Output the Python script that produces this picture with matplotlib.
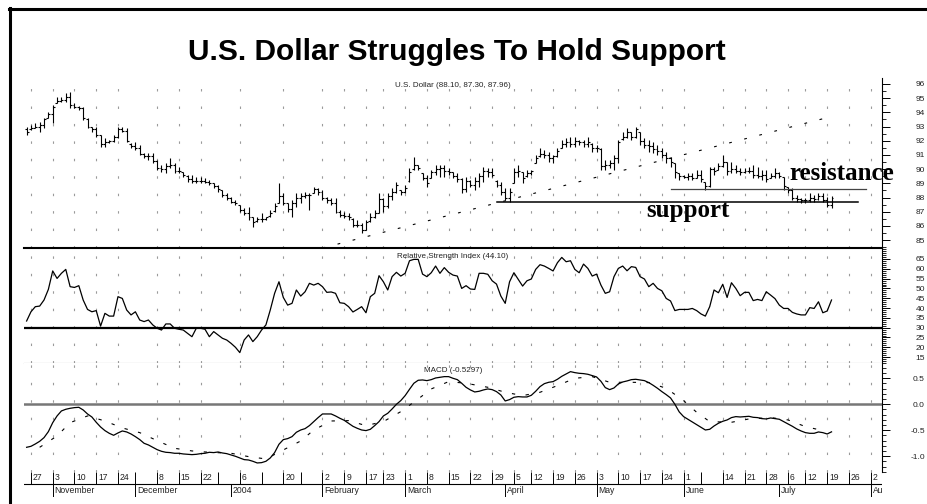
import numpy as np
import pandas as pd
import matplotlib
matplotlib.use("Agg")
import matplotlib.pyplot as plt
from matplotlib.lines import Line2D
from matplotlib.ticker import MultipleLocator, FixedLocator, FormatStrFormatter

plt.rcParams['font.family'] = ['Liberation Sans', 'DejaVu Sans']

# ---------------- data ----------------
holidays = ['2003-11-27', '2003-12-25', '2004-01-19', '2004-02-16',
            '2004-04-09', '2004-05-31', '2004-07-05']
start_date, end_date = '2003-10-24', '2004-08-06'

high = [93.00, 93.11, 93.23, 93.35, 93.58, 94.05, 94.52, 95.11, 95.11, 95.34, 95.46,
        94.64, 94.45, 94.40, 93.58, 93.00, 93.00, 92.41, 92.17, 92.06, 92.41,
        93.00, 93.00, 92.88, 91.82, 91.94, 91.70, 91.12, 91.12, 91.12, 90.65,
        90.30, 90.41, 90.77, 90.41, 90.18, 89.83, 89.59, 89.59, 89.47, 89.47,
        89.36, 89.24, 89.00, 88.89, 88.54, 88.30, 88.07, 87.83, 87.48, 87.24,
        87.36, 86.66, 86.66, 86.89, 86.66, 87.13, 87.60, 89.00, 88.30, 87.60,
        87.83, 88.30, 88.30, 88.42, 88.30, 88.77, 88.65, 88.54, 88.07, 87.95,
        87.95, 87.13, 87.01, 86.89, 86.54, 86.42, 86.19, 86.42, 86.89, 87.13,
        88.30, 87.95, 88.30, 88.65, 89.12, 88.54, 88.89, 90.06, 90.88, 90.30,
        89.71, 89.59, 89.94, 90.30, 90.30, 90.30, 90.06, 89.83, 89.71, 89.36,
        89.47, 89.24, 89.47, 89.71, 90.18, 90.06, 90.06, 89.24, 89.12, 88.65,
        88.65, 90.06, 90.30, 89.83, 89.94, 89.94, 91.00, 91.47, 91.35, 91.23,
        91.00, 91.47, 92.06, 92.17, 92.29, 92.29, 92.06, 92.06, 92.29, 91.82,
        91.70, 91.47, 90.65, 90.65, 91.00, 92.06, 92.64, 92.88, 92.64, 93.00,
        92.64, 92.17, 92.06, 91.94, 91.70, 91.47, 91.23, 90.88, 90.41, 89.71,
        89.59, 89.71, 89.71, 89.94, 89.94, 89.12, 90.18, 90.18, 90.41, 91.00,
        90.53, 90.53, 90.30, 90.06, 90.06, 90.18, 90.30, 90.18, 89.94, 89.94,
        89.71, 90.06, 89.83, 89.47, 88.77, 88.65, 88.18, 87.95, 87.95, 88.30,
        88.18, 88.30, 88.30, 88.07, 88.10]
low = [92.41, 92.76, 92.88, 92.64, 92.88, 93.58, 93.23, 94.64, 94.76, 94.76, 94.29,
       94.29, 94.17, 93.46, 92.88, 92.64, 92.29, 91.59, 91.59, 91.82, 91.94,
       92.17, 92.64, 91.94, 91.47, 91.35, 91.00, 90.77, 90.65, 90.41, 89.94,
       89.83, 89.71, 90.06, 89.71, 89.71, 89.47, 89.12, 89.00, 89.00, 89.00,
       89.00, 88.89, 88.65, 88.42, 88.07, 87.83, 87.60, 87.48, 87.01, 86.78,
       86.42, 85.95, 86.31, 86.31, 86.42, 86.66, 87.01, 87.60, 87.48, 87.01,
       86.66, 87.36, 87.60, 87.95, 87.13, 88.30, 88.18, 87.83, 87.60, 87.48,
       86.89, 86.66, 86.54, 86.42, 85.95, 85.95, 85.48, 85.72, 86.31, 86.54,
       86.89, 87.01, 87.24, 87.83, 88.30, 88.18, 88.30, 89.12, 89.94, 89.94,
       89.24, 88.77, 89.36, 89.59, 89.47, 89.47, 89.59, 89.36, 89.12, 88.30,
       88.42, 88.77, 88.54, 88.77, 89.12, 89.47, 89.47, 88.77, 88.18, 87.83,
       87.71, 89.00, 89.47, 89.00, 89.47, 89.59, 90.41, 90.88, 90.77, 90.53,
       90.41, 90.88, 91.47, 91.59, 91.59, 91.59, 91.70, 91.59, 91.59, 91.23,
       91.23, 89.94, 89.94, 90.06, 89.94, 90.41, 92.06, 92.17, 92.06, 92.17,
       91.70, 91.47, 91.23, 91.12, 91.00, 90.77, 90.41, 90.18, 89.36, 89.24,
       89.36, 89.24, 89.24, 89.36, 89.12, 88.54, 88.77, 89.59, 89.94, 90.18,
       89.59, 89.71, 89.71, 89.59, 89.71, 89.71, 89.36, 89.36, 89.24, 89.12,
       89.36, 89.36, 89.36, 88.54, 88.30, 87.83, 87.71, 87.60, 87.60, 87.71,
       87.71, 87.83, 87.71, 87.36, 87.30]
close = [92.60, 92.90, 92.95, 93.10, 93.50, 93.90, 94.40, 94.80, 94.90, 95.10, 94.50,
         94.40, 94.30, 93.60, 93.00, 92.80, 92.40, 91.80, 91.90, 92.00, 92.30,
         92.80, 92.70, 92.00, 91.60, 91.50, 91.10, 90.90, 90.90, 90.60, 90.10,
         90.00, 90.20, 90.30, 89.90, 89.90, 89.60, 89.30, 89.20, 89.20, 89.20,
         89.10, 89.00, 88.80, 88.60, 88.20, 88.00, 87.70, 87.60, 87.10, 86.90,
         86.60, 86.30, 86.50, 86.50, 86.60, 86.90, 87.40, 88.10, 87.60, 87.20,
         87.60, 88.00, 88.10, 88.20, 88.20, 88.60, 88.40, 88.00, 87.80, 87.60,
         87.00, 86.80, 86.70, 86.60, 86.10, 86.10, 85.70, 86.30, 86.60, 86.90,
         87.90, 87.40, 88.10, 88.40, 88.90, 88.40, 88.70, 89.80, 90.30, 90.10,
         89.40, 89.00, 89.80, 90.00, 90.10, 89.90, 89.80, 89.50, 89.30, 88.60,
         89.20, 88.90, 89.20, 89.50, 89.90, 89.80, 89.60, 88.90, 88.40, 88.00,
         88.40, 89.80, 89.90, 89.40, 89.70, 89.90, 90.80, 91.10, 91.00, 90.80,
         90.90, 91.30, 91.80, 91.90, 91.80, 92.00, 91.90, 91.80, 91.90, 91.50,
         91.50, 90.20, 90.30, 90.40, 90.80, 91.90, 92.30, 92.60, 92.30, 92.80,
         92.00, 91.70, 91.60, 91.40, 91.30, 91.00, 90.80, 90.50, 89.80, 89.50,
         89.45, 89.50, 89.40, 89.60, 89.30, 88.80, 90.00, 89.90, 90.20, 90.50,
         89.90, 90.00, 89.90, 89.80, 89.90, 89.90, 89.60, 89.50, 89.60, 89.30,
         89.50, 89.70, 89.50, 88.80, 88.50, 88.00, 87.90, 87.80, 87.80, 88.00,
         87.90, 88.10, 87.80, 87.50, 87.96]
open_ = [92.80, 92.80, 92.90, 92.95, 93.10, 93.60, 93.90, 94.65, 94.80, 94.90, 95.10,
         94.50, 94.40, 94.30, 93.55, 93.00, 92.80, 92.40, 91.80, 91.90, 92.00,
         92.30, 92.80, 92.70, 91.80, 91.60, 91.50, 91.10, 90.90, 90.90, 90.60,
         90.10, 90.00, 90.20, 90.30, 89.90, 89.80, 89.55, 89.30, 89.20, 89.20,
         89.20, 89.10, 89.00, 88.80, 88.50, 88.20, 88.00, 87.70, 87.45, 87.10,
         86.90, 86.60, 86.35, 86.50, 86.50, 86.70, 87.05, 87.65, 88.10, 87.60,
         87.20, 87.60, 88.00, 88.10, 88.20, 88.35, 88.60, 88.40, 88.00, 87.80,
         87.60, 87.00, 86.80, 86.70, 86.50, 86.10, 86.10, 85.75, 86.35, 86.60,
         86.90, 87.90, 87.40, 88.10, 88.40, 88.50, 88.40, 89.15, 90.00, 90.30,
         89.70, 89.40, 89.40, 89.80, 90.00, 90.10, 89.90, 89.80, 89.50, 89.30,
         88.60, 89.20, 88.90, 89.20, 89.50, 89.90, 89.80, 89.20, 88.90, 88.40,
         88.00, 89.05, 89.80, 89.80, 89.50, 89.70, 90.45, 90.90, 91.10, 91.00,
         90.80, 90.90, 91.50, 91.80, 91.90, 91.80, 92.00, 91.90, 91.80, 91.80,
         91.50, 91.45, 90.20, 90.30, 90.40, 90.80, 92.10, 92.30, 92.60, 92.30,
         92.60, 92.00, 91.70, 91.60, 91.40, 91.30, 91.00, 90.80, 90.40, 89.70,
         89.50, 89.45, 89.50, 89.40, 89.60, 89.10, 88.80, 90.00, 89.95, 90.20,
         90.50, 89.90, 90.00, 89.90, 89.80, 89.90, 89.90, 89.60, 89.50, 89.60,
         89.40, 89.50, 89.70, 89.45, 88.75, 88.50, 88.00, 87.90, 87.80, 87.80,
         88.00, 87.90, 88.10, 87.80, 87.50]

rsi = [33.4, 38.1, 40.7, 41.0, 44.1, 49.5, 58.9, 55.1, 57.7, 59.7, 50.9,
       50.5, 51.4, 44.1, 39.3, 38.1, 38.7, 30.8, 37.3, 35.9, 35.9,
       45.8, 44.9, 39.0, 36.5, 38.1, 33.9, 33.1, 33.9, 31.4, 29.7,
       28.8, 31.9, 31.9, 29.7, 29.2, 28.8, 27.1, 25.4, 29.7, 29.7,
       29.2, 25.4, 28.0, 26.3, 24.6, 23.7, 22.0, 20.0, 17.3, 23.7,
       26.3, 22.9, 25.4, 28.8, 31.4, 39.0, 47.5, 53.4, 45.4, 41.5,
       42.4, 49.2, 46.1, 48.3, 52.6, 51.7, 52.6, 50.9, 48.0, 48.2,
       47.5, 42.7, 42.4, 40.7, 38.0, 39.3, 40.7, 37.6, 45.8, 47.5,
       56.5, 53.4, 49.2, 56.0, 58.2, 56.3, 57.7, 64.1, 64.8, 64.8,
       57.3, 56.0, 58.0, 61.4, 57.7, 60.6, 58.2, 56.8, 56.3, 50.0,
       51.4, 49.7, 49.5, 57.7, 57.7, 57.2, 53.9, 52.2, 46.1, 42.4,
       53.4, 58.0, 54.6, 51.2, 53.9, 54.8, 59.7, 62.1, 61.4, 60.2,
       58.9, 63.1, 65.8, 63.6, 64.1, 59.7, 58.0, 62.4, 60.2, 56.3,
       57.3, 51.7, 47.5, 48.3, 56.0, 60.2, 61.4, 59.0, 61.1, 60.7,
       56.0, 54.8, 50.9, 52.6, 50.0, 48.8, 44.9, 43.6, 38.7, 39.3,
       39.3, 39.3, 39.8, 38.7, 37.0, 35.9, 40.7, 49.2, 47.8, 52.1,
       45.4, 52.9, 50.0, 46.3, 48.0, 48.0, 43.8, 44.4, 43.8, 48.3,
       46.6, 44.8, 41.5, 39.8, 39.8, 37.8, 37.0, 36.5, 36.5, 40.2,
       39.8, 43.2, 37.6, 38.5, 44.10]

macd = [-0.827, -0.808, -0.763, -0.712, -0.641, -0.526, -0.353, -0.224, -0.128, -0.096, -0.077,
        -0.064, -0.058, -0.109, -0.186, -0.244, -0.346, -0.436, -0.506, -0.558, -0.596,
        -0.551, -0.513, -0.532, -0.571, -0.622, -0.679, -0.750, -0.782, -0.827, -0.872,
        -0.904, -0.923, -0.929, -0.942, -0.942, -0.955, -0.962, -0.968, -0.962, -0.949,
        -0.942, -0.923, -0.929, -0.917, -0.936, -0.949, -0.974, -1.000, -1.032, -1.064,
        -1.071, -1.096, -1.128, -1.122, -1.096, -1.032, -0.929, -0.769, -0.679, -0.660,
        -0.622, -0.538, -0.494, -0.468, -0.410, -0.333, -0.256, -0.186, -0.186, -0.186,
        -0.224, -0.269, -0.308, -0.365, -0.423, -0.462, -0.494, -0.506, -0.481, -0.410,
        -0.333, -0.224, -0.173, -0.090, 0.000, 0.071, 0.167, 0.288, 0.404, 0.462,
        0.468, 0.455, 0.474, 0.506, 0.519, 0.532, 0.532, 0.500, 0.474, 0.404,
        0.327, 0.276, 0.237, 0.250, 0.276, 0.295, 0.282, 0.244, 0.179, 0.064,
        0.090, 0.135, 0.147, 0.141, 0.141, 0.173, 0.250, 0.340, 0.397, 0.423,
        0.436, 0.481, 0.538, 0.583, 0.628, 0.609, 0.596, 0.590, 0.577, 0.551,
        0.526, 0.442, 0.321, 0.282, 0.314, 0.391, 0.429, 0.449, 0.474, 0.481,
        0.468, 0.455, 0.417, 0.365, 0.308, 0.244, 0.186, 0.122, 0.000, -0.147,
        -0.237, -0.288, -0.340, -0.391, -0.442, -0.494, -0.481, -0.417, -0.365, -0.327,
        -0.301, -0.256, -0.237, -0.244, -0.237, -0.231, -0.250, -0.256, -0.276, -0.282,
        -0.263, -0.276, -0.288, -0.333, -0.378, -0.423, -0.474, -0.513, -0.545, -0.558,
        -0.558, -0.532, -0.545, -0.571, -0.5297]

# MACD signal line, read where its dashes are visible (trading-day position, value)
signal_pos = [3, 7, 10, 14, 18, 22, 26, 30, 34, 38, 42, 47, 51, 55, 59, 63, 66, 70, 74, 78,
              82, 86, 90, 93, 97, 101, 106, 110, 114, 118, 122, 126, 130, 134, 139, 143,
              147, 151, 154, 157, 162, 166, 171, 175, 179, 183]
signal_val = [-0.827, -0.609, -0.353, -0.224, -0.321, -0.455, -0.545, -0.699, -0.846, -0.897,
              -0.923, -0.942, -1.006, -1.051, -0.878, -0.705, -0.494, -0.321, -0.314, -0.410,
              -0.333, -0.141, 0.103, 0.295, 0.436, 0.404, 0.327, 0.231, 0.167, 0.231,
              0.359, 0.500, 0.532, 0.423, 0.423, 0.417, 0.308, 0.071, -0.154, -0.333,
              -0.346, -0.282, -0.256, -0.301, -0.429, -0.506]

trend_pos, trend_val = [68, 183], [84.45, 93.55]
support_pos, support_val = [108, 191], 87.70
resist_pos, resist_val = [148, 193], 88.58

week_labels = ['27', '3', '10', '17', '24', '', '8', '15', '22', '', '6', '', '20', '',
               '2', '9', '17', '23', '1', '8', '15', '22', '29', '5', '12', '19', '26',
               '3', '10', '17', '24', '1', '', '14', '21', '28', '6', '12', '19', '26', '2']
month_labels = ['November', 'December', '2004', 'February', 'March', 'April', 'May',
                'June', 'July', 'August']

price_ticks = list(range(85, 97))
rsi_ticks = list(range(15, 70, 5))
macd_ticks = [-1.0, -0.5, 0.0, 0.5]

# ---------------- calendar ----------------
hol = pd.to_datetime(holidays)
dates = [d for d in pd.bdate_range(start_date, end_date) if d not in hol]
pos = {d: k for k, d in enumerate(dates)}
xs = np.arange(len(close))

week_first = []
seen = set()
for d in dates:
    key = d.isocalendar()[:2]
    if key not in seen:
        seen.add(key)
        if d >= pd.Timestamp('2003-10-27'):
            week_first.append(pos[d])
week_first = week_first[:len(week_labels)]
month_first = []
seenm = set()
for d in dates:
    key = (d.year, d.month)
    if key not in seenm:
        seenm.add(key)
        if d >= pd.Timestamp('2003-11-01'):
            month_first.append(pos[d])
month_first = month_first[:len(month_labels)]

# ---------------- layout ----------------
W, H = 928, 504
fig = plt.figure(figsize=(W / 100, H / 100), dpi=100)
L_PX, R_PX = 24, 882


def rect(top, bottom):
    return [L_PX / W, 1 - bottom / H, (R_PX - L_PX) / W, (bottom - top) / H]


XLIM = (-0.6, 196.6)
ax_p = fig.add_axes(rect(78, 248))
ax_r = fig.add_axes(rect(248, 363))
ax_m = fig.add_axes(rect(363, 472))
ax_d = fig.add_axes(rect(472, 497))

ax_p.set_ylim(84.45, 96.42)
ax_r.set_ylim(12.0, 70.6)
ax_m.set_ylim(-1.302, 0.794)

grid_x = [p for p, lab in zip(week_first, week_labels) if lab]

for ax in (ax_p, ax_r, ax_m):
    ax.set_xlim(*XLIM)
    ax.set_facecolor('white')
    for s in ('top', 'left', 'bottom'):
        ax.spines[s].set_visible(False)
    ax.spines['right'].set_linewidth(0.8)
    ax.spines['right'].set_color('black')
    ax.set_xticks([])
    ax.yaxis.tick_right()
    ax.tick_params(axis='y', which='major', direction='out', length=5.5, width=0.7,
                   pad=25.4, labelsize=6, labelcolor='#222222')
    ax.tick_params(axis='y', which='minor', direction='out', length=2.8, width=0.6)
    for gx in grid_x:
        ax.axvline(gx, color='#9a9a9a', lw=0.8, linestyle=(0, (2.2, 13.5)), zorder=0)

ax_p.yaxis.set_major_locator(FixedLocator(price_ticks))
ax_p.yaxis.set_minor_locator(MultipleLocator(0.5))
ax_p.yaxis.set_major_formatter(FormatStrFormatter('%d'))
ax_r.yaxis.set_major_locator(FixedLocator(rsi_ticks))
ax_r.yaxis.set_minor_locator(MultipleLocator(1))
ax_r.yaxis.set_major_formatter(FormatStrFormatter('%d'))
ax_m.yaxis.set_major_locator(FixedLocator(macd_ticks))
ax_m.yaxis.set_minor_locator(MultipleLocator(0.1))
ax_m.yaxis.set_major_formatter(FormatStrFormatter('%.1f'))
for ax in (ax_p, ax_r, ax_m):
    for lab in ax.get_yticklabels():
        lab.set_horizontalalignment('right')

# --- price bars ---
ax_p.vlines(xs, low, high, color='black', lw=0.8)
ax_p.hlines(open_, xs - 0.45, xs, color='black', lw=0.8)
ax_p.hlines(close, xs, xs + 0.45, color='black', lw=0.8)
ax_p.plot(trend_pos, trend_val, color='black', lw=0.8, linestyle=(0, (2.5, 11.5)))
ax_p.plot(support_pos, [support_val] * 2, color='black', lw=1.1)
ax_p.plot(resist_pos, [resist_val] * 2, color='#444444', lw=0.9)
ax_p.text(0.5, 0.953, f'U.S. Dollar ({high[-1]:.2f}, {low[-1]:.2f}, {close[-1]:.2f})',
          transform=ax_p.transAxes, ha='center', va='center', fontsize=5.8, color='#222222')
ax_p.text(175.2, 89.24, 'resistance', family=['Liberation Serif', 'DejaVu Serif'],
          fontweight='bold', fontsize=18, ha='left', va='baseline', clip_on=False)
ax_p.text(142.5, 86.63, 'support', family=['Liberation Serif', 'DejaVu Serif'],
          fontweight='bold', fontsize=18, ha='left', va='baseline', clip_on=False)

# --- RSI ---
ax_r.plot(xs, rsi, color='black', lw=0.9)
ax_r.axhline(30, color='black', lw=1.6)
ax_r.spines['top'].set_visible(True)
ax_r.spines['top'].set_linewidth(1.5)
ax_r.spines['top'].set_color('black')
ax_r.spines['bottom'].set_visible(True)
ax_r.spines['bottom'].set_linewidth(0.8)
ax_r.spines['bottom'].set_color('#888888')
ax_r.text(0.5, 0.93, f'Relative Strength Index ({rsi[-1]:.2f})', transform=ax_r.transAxes,
          ha='center', va='center', fontsize=5.8, color='#222222')

# --- MACD ---
ax_m.axhline(0, color='#777777', lw=1.8, zorder=1)
ax_m.plot(xs, macd, color='black', lw=0.9, zorder=3)
ax_m.plot(signal_pos, signal_val, color='black', lw=0.8, linestyle=(0, (3, 9.5)), zorder=3)
ax_m.text(0.5, 0.927, f'MACD ({macd[-1]:.4f})', transform=ax_m.transAxes,
          ha='center', va='center', fontsize=5.8, color='#222222')

# --- date axis ---
ax_d.set_xlim(*XLIM)
ax_d.set_ylim(0, 1)
ax_d.axis('off')
ax_d.axhline(0.52, color='black', lw=0.8)
ax_d.vlines(week_first, 0.52, 1.0, color='black', lw=0.7)
ax_d.vlines(month_first, 0.0, 0.52, color='black', lw=0.7)
for p, lab in zip(week_first, week_labels):
    ax_d.text(p + 0.45, 0.76, lab, ha='left', va='center', fontsize=6.2, color='#222222',
              clip_on=True)
for p, lab in zip(month_first, month_labels):
    ax_d.text(p + 0.45, 0.25, lab, ha='left', va='center', fontsize=6.2, color='#222222',
              clip_on=True)

# --- title and frame ---
fig.text(457 / W, 1 - 52 / H, 'U.S. Dollar Struggles To Hold Support', ha='center',
         va='center', fontsize=21.5, fontweight='bold', color='black')
fig.add_artist(Line2D([9 / W, 1.0], [1 - 8.5 / H, 1 - 8.5 / H], transform=fig.transFigure,
                      color='black', lw=2.2))
fig.add_artist(Line2D([10 / W, 10 / W], [0, 1 - 7.5 / H], transform=fig.transFigure,
                      color='black', lw=2.2))

fig.savefig('out.png', dpi=100, facecolor='white')
